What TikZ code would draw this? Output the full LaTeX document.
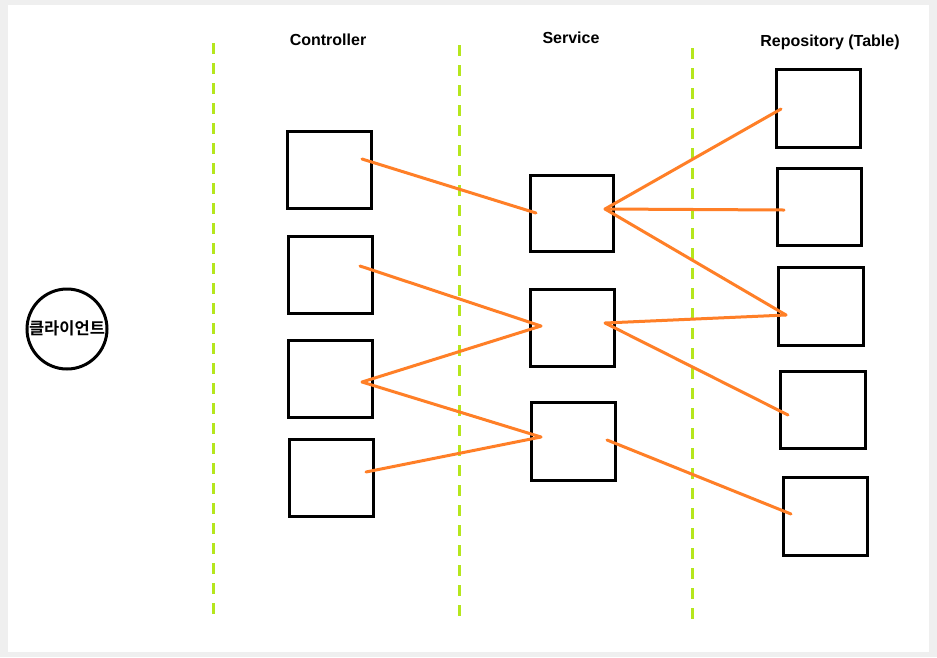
\documentclass[tikz,border=0pt]{standalone}
\usepackage{fontspec}
\setmainfont{Liberation Sans}
\newfontfamily\krfont{Noto Sans CJK KR}[BoldFont={Noto Sans CJK KR Bold}]
\definecolor{bgray}{HTML}{EFEFEF}
\definecolor{lgreen}{HTML}{B5E61D}
\definecolor{lorange}{HTML}{FF7F27}
\begin{document}
\begin{tikzpicture}[x=1pt,y=-1pt,
  boxnode/.style={draw=black,line width=3pt,minimum width=84pt,minimum height=77pt,inner sep=0pt},
  sep/.style={draw=lgreen,line width=3pt,dash pattern=on 11pt off 9pt},
  link/.style={draw=lorange,line width=3pt,line cap=round,line join=round},
  title/.style={font=\bfseries\fontsize{16}{18}\selectfont,anchor=center}]
\fill[bgray] (0,0) rectangle (937,657);
\useasboundingbox (0,0) rectangle (937,657);
\fill[white] (8,5) rectangle (929,652);
% separators
\draw[sep] (213,43) -- (213,615);
\draw[sep] (459,45) -- (459,617);
\draw[sep] (692,48) -- (692,620);
% titles
\node[title] (tc) at (328,40) {Controller};
\node[title] (ts) at (571,38) {Service};
\node[title] (tr) at (830,42) {Repository (Table)};
% client
\node[draw=black,line width=3pt,circle,minimum size=80pt,inner sep=0pt] (client) at (67,329) {};
\node[font=\krfont\bfseries\fontsize{16.5}{18}\selectfont] (clientlabel) at (67,328) {클라이언트};
% controller boxes
\node[boxnode] (c1) at (329,169.5) {};
\node[boxnode] (c2) at (330,274.5) {};
\node[boxnode] (c3) at (330,378.5) {};
\node[boxnode] (c4) at (331,478) {};
% service boxes
\node[boxnode,minimum width=83pt,minimum height=76pt] (s1) at (571.5,213) {};
\node[boxnode] (s2) at (572,327.5) {};
\node[boxnode,minimum height=78pt] (s3) at (573,441) {};
% repository boxes
\node[boxnode,minimum height=78pt] (r1) at (818,108) {};
\node[boxnode] (r2) at (819,206.5) {};
\node[boxnode,minimum width=85pt,minimum height=78pt] (r3) at (820.5,306) {};
\node[boxnode,minimum width=85pt] (r4) at (822.5,409.5) {};
\node[boxnode,minimum height=78pt] (r5) at (825,516) {};
% link end points
\coordinate (c1p) at (362,159);
\coordinate (c2p) at (360,266);
\coordinate (c3p) at (362,382);
\coordinate (c4p) at (366,472);
\coordinate (s1l) at (536,213);
\coordinate (s2l) at (541,326);
\coordinate (s3l) at (541,437);
\coordinate (s1r) at (605,209);
\coordinate (s2r) at (605,323);
\coordinate (s3r) at (607,440);
\coordinate (r1p) at (781,109);
\coordinate (r2p) at (784,210);
\coordinate (r3p) at (786,315);
\coordinate (r4p) at (788,415);
\coordinate (r5p) at (791,514);
% links
\draw[link] (c1p) -- (s1l);
\draw[link] (c2p) -- (s2l);
\draw[link] (s2l) -- (c3p) -- (s3l);
\draw[link] (c4p) -- (s3l);
\draw[link] (r1p) -- (s1r) -- (r3p);
\draw[link] (s1r) -- (r2p);
\draw[link] (r3p) -- (s2r) -- (r4p);
\draw[link] (s3r) -- (r5p);
\end{tikzpicture}
\end{document}
